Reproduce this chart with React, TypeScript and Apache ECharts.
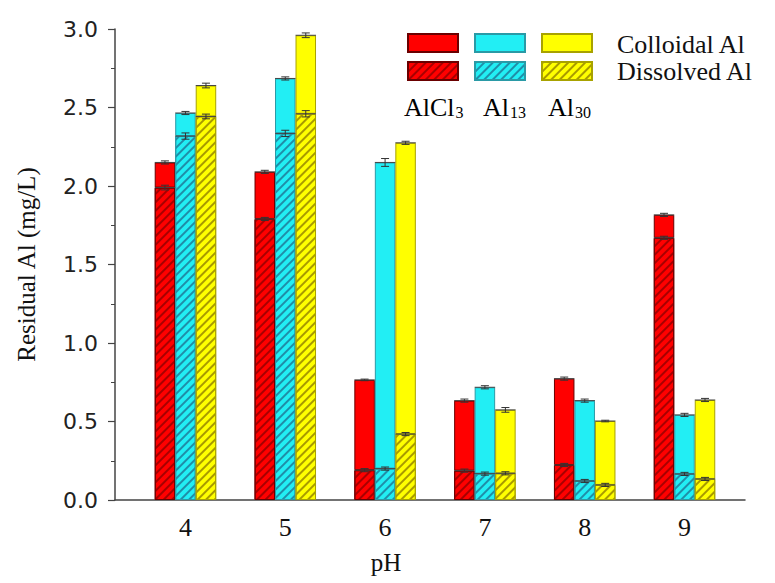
import React, { useEffect, useRef } from "react";
import * as echarts from "echarts";

const phValues = [4, 5, 6, 7, 8, 9];
const phLabels = ["4", "5", "6", "7", "8", "9"];

// Total residual Al (top of each bar) and dissolved Al (hatched lower part), mg/L
const alcl3Total = [2.15, 2.09, 0.765, 0.633, 0.773, 1.816];
const alcl3Dissolved = [1.99, 1.79, 0.19, 0.187, 0.223, 1.67];
const al13Total = [2.465, 2.685, 2.15, 0.718, 0.633, 0.542];
const al13Dissolved = [2.318, 2.335, 0.2, 0.168, 0.121, 0.166];
const al30Total = [2.64, 2.96, 2.275, 0.574, 0.503, 0.637];
const al30Dissolved = [2.443, 2.46, 0.42, 0.17, 0.096, 0.134];

// error bar half-widths (estimated)
const alcl3TotalErr = [0.01, 0.01, 0.005, 0.01, 0.01, 0.01];
const alcl3DissErr = [0.015, 0.01, 0.01, 0.01, 0.01, 0.01];
const al13TotalErr = [0.01, 0.01, 0.025, 0.01, 0.01, 0.01];
const al13DissErr = [0.02, 0.02, 0.01, 0.01, 0.01, 0.01];
const al30TotalErr = [0.015, 0.015, 0.01, 0.015, 0.005, 0.01];
const al30DissErr = [0.015, 0.02, 0.01, 0.01, 0.01, 0.01];

const coagulants = ["AlCl3", "Al13", "Al30"];

const BAR_W = 20.5;

export default function App() {
  const ref = useRef<HTMLDivElement>(null);

  useEffect(() => {
    if (!ref.current) return;
    const chart = echarts.init(ref.current, null, { renderer: "svg" });

    const serif = "Liberation Serif";
    const palette = [
      { fill: "#ff0000", border: "#6a0000", hatch: "#a80000" },
      { fill: "#22eef4", border: "#2a9aa6", hatch: "#1f8ea8" },
      { fill: "#ffff00", border: "#a8a200", hatch: "#a89a00" },
    ];
    const totals = [alcl3Total, al13Total, al30Total];
    const dissolved = [alcl3Dissolved, al13Dissolved, al30Dissolved];
    const totalErr = [alcl3TotalErr, al13TotalErr, al30TotalErr];
    const dissErr = [alcl3DissErr, al13DissErr, al30DissErr];

    const series: any[] = [];
    coagulants.forEach((name, i) => {
      const c = palette[i];
      // data stored as [value, pH] so that the value dimension is the stacked one
      series.push({
        name: name + " dissolved",
        type: "bar",
        stack: "s" + i,
        barWidth: BAR_W,
        barGap: "0%",
        encode: { x: 1, y: 0 },
        data: phValues.map((x, k) => [dissolved[i][k], x]),
        itemStyle: {
          color: c.fill,
          borderColor: c.border,
          borderWidth: 1,
          decal: {
            symbol: "rect",
            symbolSize: 1,
            dashArrayX: [1, 0],
            dashArrayY: [1.2, 4],
            rotation: -Math.PI / 4,
            color: c.hatch,
          },
        },
      });
      series.push({
        name: name + " colloidal",
        type: "bar",
        stack: "s" + i,
        barWidth: BAR_W,
        barGap: "0%",
        encode: { x: 1, y: 0 },
        data: phValues.map((x, k) => [+(totals[i][k] - dissolved[i][k]).toFixed(4), x]),
        itemStyle: {
          color: c.fill,
          borderColor: c.border,
          borderWidth: 1,
        },
      });
    });

    const errData: any[] = [];
    coagulants.forEach((_, i) => {
      phValues.forEach((x, k) => {
        errData.push([x, totals[i][k], totalErr[i][k], i - 1]);
        errData.push([x, dissolved[i][k], dissErr[i][k], i - 1]);
      });
    });

    series.push({
      name: "error",
      type: "custom",
      z: 5,
      data: errData,
      encode: { x: 0, y: 1 },
      renderItem: (params: any, api: any) => {
        const x = api.value(0);
        const y = api.value(1);
        const e = api.value(2);
        const col = api.value(3);
        const base = api.coord([x, y]);
        const cx = base[0] + col * BAR_W;
        const t = api.coord([x, y + e])[1];
        const b = api.coord([x, y - e])[1];
        const cap = 4;
        const style = { stroke: "#333", lineWidth: 1 };
        return {
          type: "group",
          children: [
            { type: "line", shape: { x1: cx - BAR_W / 2, y1: base[1], x2: cx + BAR_W / 2, y2: base[1] }, style: { stroke: "#444", lineWidth: 1 } },
            { type: "line", shape: { x1: cx, y1: t, x2: cx, y2: b }, style },
            { type: "line", shape: { x1: cx - cap, y1: t, x2: cx + cap, y2: t }, style },
            { type: "line", shape: { x1: cx - cap, y1: b, x2: cx + cap, y2: b }, style },
          ],
        };
      },
    });

    const legendCommon = {
      left: 407,
      itemWidth: 50,
      itemHeight: 18,
      itemGap: 15,
      icon: "rect",
      selectedMode: false,
      formatter: () => "",
      textStyle: { fontSize: 1, padding: 0 },
      padding: 0,
    };

    const sub = (fs: number) => ({ fontSize: fs, fontFamily: serif, color: "#111", verticalAlign: "bottom", padding: [20, 0, 0, 1], lineHeight: fs });
    const main = { fontSize: 26, fontFamily: serif, color: "#111", verticalAlign: "top", lineHeight: 26 };

    chart.setOption({
      animation: false,
      backgroundColor: "#ffffff",
      grid: { left: 115, right: 30, top: 29, bottom: 83, outerBoundsMode: "none" },
      legend: [
        { ...legendCommon, top: 33, data: coagulants.map((n) => n + " colloidal") },
        { ...legendCommon, top: 61, data: coagulants.map((n) => n + " dissolved") },
      ],
      graphic: [
        { type: "text", left: 617, top: 31, style: { text: "Colloidal Al", fontSize: 26, lineHeight: 24, fontFamily: serif, fill: "#111" } },
        { type: "text", left: 617, top: 58, style: { text: "Dissolved Al", fontSize: 26, lineHeight: 24, fontFamily: serif, fill: "#111" } },
        {
          type: "text",
          left: 404,
          top: 84,
          style: { text: "{m|AlCl}{s|3}", rich: { m: main, s: sub(16) } },
        },
        {
          type: "text",
          left: 483,
          top: 84,
          style: { text: "{m|Al}{s|13}", rich: { m: main, s: sub(16) } },
        },
        {
          type: "text",
          left: 548,
          top: 84,
          style: { text: "{m|Al}{s|30}", rich: { m: main, s: sub(16) } },
        },
      ],
      xAxis: {
        type: "value",
        min: 3.294,
        max: 9.606,
        name: "pH",
        nameLocation: "middle",
        nameGap: 50,
        nameTextStyle: { fontFamily: serif, fontSize: 25, color: "#111", padding: [0, 88, 0, 0] },
        axisLine: { show: true, lineStyle: { color: "#444", width: 1.5 } },
        axisTick: { show: false },
        splitLine: { show: false },
        axisLabel: {
          customValues: phValues,
          formatter: (v: number) => phLabels[phValues.indexOf(Math.round(v))] ?? "",
          fontFamily: serif,
          fontSize: 26,
          color: "#111",
          margin: 14,
        },
      },
      yAxis: {
        type: "value",
        min: 0,
        max: 3,
        interval: 0.5,
        name: "Residual Al (mg/L)",
        nameLocation: "middle",
        nameGap: 76,
        nameTextStyle: { fontFamily: serif, fontSize: 25, color: "#111" },
        axisLine: { show: true, lineStyle: { color: "#444", width: 1.5 } },
        axisTick: { show: true, inside: false, length: 7, lineStyle: { color: "#444", width: 1.2 } },
        minorTick: { show: true, splitNumber: 2, length: 4, lineStyle: { color: "#444", width: 1 } },
        splitLine: { show: false },
        axisLabel: {
          formatter: (v: number) => v.toFixed(1),
          fontFamily: "DejaVu Sans",
          fontSize: 22,
          color: "#222",
          margin: 17,
        },
      },
      series,
    });

    return () => chart.dispose();
  }, []);

  return (
    <div
      ref={ref}
      style={{ position: "fixed", left: 0, top: 0, width: 775, height: 583, background: "#fff" }}
    />
  );
}
